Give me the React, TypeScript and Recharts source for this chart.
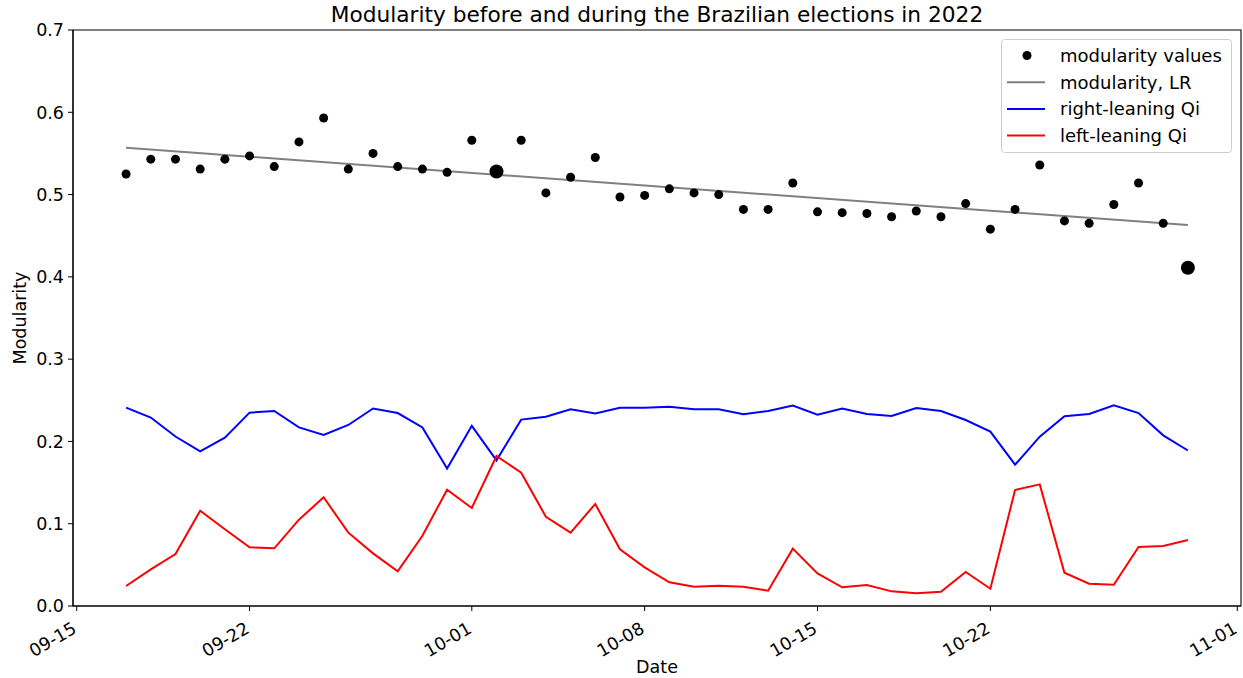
import React from 'react';
import { ComposedChart, Line, Scatter, XAxis, YAxis, ReferenceArea, Legend } from 'recharts';

const dates = [
  '09-17', '09-18', '09-19', '09-20', '09-21', '09-22', '09-23', '09-24', '09-25', '09-26', '09-27', '09-28', '09-29', '09-30',
  '10-01', '10-02', '10-03', '10-04', '10-05', '10-06', '10-07', '10-08', '10-09', '10-10', '10-11', '10-12', '10-13', '10-14',
  '10-15', '10-16', '10-17', '10-18', '10-19', '10-20', '10-21', '10-22', '10-23', '10-24', '10-25', '10-26', '10-27', '10-28',
  '10-29', '10-30',
];

const modularity = [
  0.525, 0.543, 0.543, 0.531, 0.543, 0.547, 0.534, 0.564, 0.593, 0.531, 0.55, 0.534, 0.531, 0.527,
  0.566, 0.528, 0.566, 0.502, 0.521, 0.545, 0.497, 0.499, 0.507, 0.502, 0.5, 0.482, 0.482, 0.514,
  0.479, 0.478, 0.477, 0.473, 0.48, 0.473, 0.489, 0.458, 0.482, 0.536, 0.468, 0.465, 0.488, 0.514,
  0.465, 0.411,
];

const rightQi = [
  0.241, 0.229, 0.206, 0.188, 0.2045, 0.235, 0.237, 0.217, 0.208, 0.22, 0.24, 0.2345, 0.217, 0.167,
  0.219, 0.177, 0.2265, 0.23, 0.239, 0.234, 0.241, 0.241, 0.242, 0.239, 0.239, 0.233, 0.237, 0.2435,
  0.2325, 0.24, 0.2333, 0.231, 0.2406, 0.237, 0.226, 0.212, 0.1717, 0.2058, 0.2305, 0.2333, 0.2439, 0.2345,
  0.2074, 0.189,
];

const leftQi = [
  0.0243, 0.0446, 0.0632, 0.1158, 0.0932, 0.0713, 0.0701, 0.1049, 0.1321, 0.0891, 0.064, 0.0422, 0.0854, 0.1413,
  0.1191, 0.1823, 0.162, 0.1085, 0.0891, 0.124, 0.0689, 0.047, 0.0288, 0.0235, 0.0247, 0.0235, 0.0186, 0.0697,
  0.0397, 0.0227, 0.0255, 0.0178, 0.0154, 0.0174, 0.0413, 0.021, 0.141, 0.1478, 0.0405, 0.0271, 0.0259, 0.0717,
  0.0729, 0.0802,
];

// linear-regression line of modularity, read at its two ends
const lrEnds = [0.557, 0.463];

const electionDates = ['10-02', '10-30'];

const xTickLabels = ['09-15', '09-22', '10-01', '10-08', '10-15', '10-22', '11-01'];
const yTicks = [0, 0.1, 0.2, 0.3, 0.4, 0.5, 0.6, 0.7];

// days since 09-15
const dayOf = (s: string) => {
  const [m, d] = s.split('-').map(Number);
  if (m === 9) return d - 15;
  if (m === 10) return 15 + d;
  return 46 + d;
};

const rows = dates.map((d, i) => ({
  t: dayOf(d),
  date: d,
  mod: modularity[i],
  right: rightQi[i],
  left: leftQi[i],
  lr: i === 0 ? lrEnds[0] : i === dates.length - 1 ? lrEnds[1] : null,
}));

const FONT = '"DejaVu Sans", sans-serif';
const TICK_FS = 17.5;

const firstDay = dayOf(dates[0]);
const lastDay = dayOf(dates[dates.length - 1]);
const pad = (lastDay - firstDay) * 0.05;
const xDomain = [firstDay - pad, lastDay + pad];

const XTick = (props: any) => {
  const { x, y, payload } = props;
  const idx = xTickLabels.findIndex((l) => dayOf(l) === payload.value);
  const label = idx >= 0 ? xTickLabels[idx] : '';
  const ax = x + 1;
  const ay = y + 19;
  return (
    <text
      x={ax}
      y={ay}
      textAnchor="end"
      transform={`rotate(-30, ${ax}, ${ay})`}
      fontFamily={FONT}
      fontSize={TICK_FS}
      fill="#000"
    >
      {label}
    </text>
  );
};

const YTick = (props: any) => {
  const { x, y, payload } = props;
  return (
    <text x={x} y={y} dy="0.36em" textAnchor="end" fontFamily={FONT} fontSize={TICK_FS} fill="#000">
      {Number(payload.value).toFixed(1)}
    </text>
  );
};

const Dot = (props: any) => {
  const { cx, cy, payload } = props;
  if (cx == null || cy == null) return null;
  const big = electionDates.includes(payload.date);
  return <circle cx={cx} cy={cy} r={big ? 7 : 4.5} fill="#000" />;
};

const legendItems = [
  { label: 'modularity values', kind: 'dot', color: '#000' },
  { label: 'modularity, LR', kind: 'line', color: '#808080' },
  { label: 'right-leaning Qi', kind: 'line', color: '#0000ff' },
  { label: 'left-leaning Qi', kind: 'line', color: '#ff0000' },
];

const LegendBox = () => (
  <svg width={231} height={114} style={{ display: 'block' }}>
    <rect x={0.5} y={0.5} width={230} height={113} rx={3} ry={3} fill="rgba(255,255,255,0.8)" stroke="#cccccc" strokeWidth={1} />
    {legendItems.map((it, i) => {
      const cy = 16.5 + i * 26.7;
      return (
        <g key={it.label}>
          {it.kind === 'dot' ? (
            <circle cx={26} cy={cy} r={4.5} fill={it.color} />
          ) : (
            <line x1={6} x2={44} y1={cy} y2={cy} stroke={it.color} strokeWidth={2} />
          )}
          <text x={59} y={cy} dy="0.36em" fontFamily={FONT} fontSize={18} fill="#000">
            {it.label}
          </text>
        </g>
      );
    })}
  </svg>
);

export default function App() {
  return (
    <div style={{ position: 'absolute', left: 0, top: 0, width: 1243, height: 678, background: '#fff' }}>
      <div
        style={{
          position: 'absolute',
          left: 73,
          width: 1168,
          top: 0,
          height: 30,
          lineHeight: '30px',
          textAlign: 'center',
          fontFamily: FONT,
          fontSize: 21.7,
          color: '#000',
          whiteSpace: 'nowrap',
        }}
      >
        Modularity before and during the Brazilian elections in 2022
      </div>
      <ComposedChart
        width={1243}
        height={678}
        data={rows}
        margin={{ top: 30, right: 2, bottom: 0, left: 0 }}
        style={{ position: 'absolute', left: 0, top: 0 }}
      >
        <XAxis
          dataKey="t"
          type="number"
          domain={xDomain}
          allowDataOverflow
          ticks={xTickLabels.map(dayOf)}
          interval={0}
          height={72}
          tickSize={5}
          tickLine={{ stroke: '#000', strokeWidth: 1 }}
          axisLine={{ stroke: '#000', strokeWidth: 1.1 }}
          tick={<XTick />}
          label={{
            content: () => (
              <text x={657} y={673} textAnchor="middle" fontFamily={FONT} fontSize={TICK_FS} fill="#000">
                Date
              </text>
            ),
          }}
        />
        <YAxis
          type="number"
          domain={[0, 0.7]}
          ticks={yTicks}
          interval={0}
          width={73}
          tickSize={5}
          tickMargin={4}
          tickLine={{ stroke: '#000', strokeWidth: 1 }}
          axisLine={{ stroke: '#000', strokeWidth: 1.1 }}
          tick={<YTick />}
          label={{
            content: () => (
              <text
                x={20}
                y={318}
                dy="0.36em"
                textAnchor="middle"
                transform="rotate(-90, 20, 318)"
                fontFamily={FONT}
                fontSize={TICK_FS}
                fill="#000"
              >
                Modularity
              </text>
            ),
          }}
        />
        <ReferenceArea
          x1={xDomain[0]}
          x2={xDomain[1]}
          y1={0}
          y2={0.7}
          fill="none"
          stroke="#000"
          strokeWidth={1.1}
          ifOverflow="visible"
        />
        <Scatter dataKey="mod" fill="#000" shape={<Dot />} isAnimationActive={false} />
        <Line dataKey="lr" stroke="#808080" strokeWidth={2} dot={false} connectNulls isAnimationActive={false} />
        <Line dataKey="right" stroke="#0000ff" strokeWidth={2} dot={false} isAnimationActive={false} />
        <Line dataKey="left" stroke="#ff0000" strokeWidth={2} dot={false} isAnimationActive={false} />
        <Legend
          layout="vertical"
          align="center"
          verticalAlign="middle"
          content={() => <LegendBox />}
          wrapperStyle={{ position: 'absolute', left: 1001, top: 39, width: 231, height: 114 }}
        />
      </ComposedChart>
    </div>
  );
}
